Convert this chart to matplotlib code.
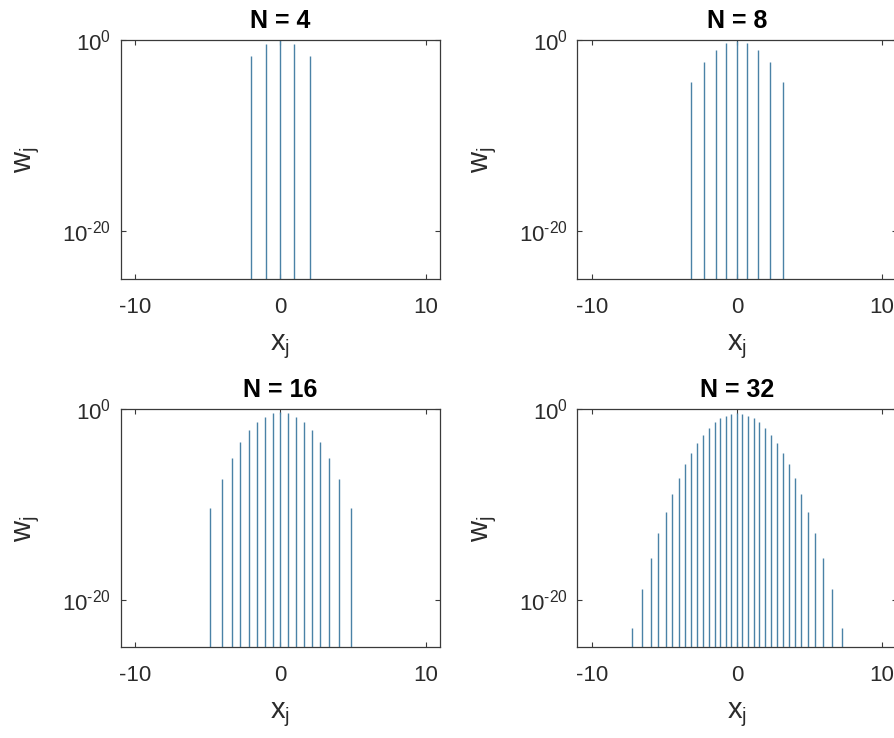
import matplotlib
matplotlib.use("Agg")
import matplotlib.pyplot as plt
from matplotlib.ticker import FixedLocator, FixedFormatter, NullLocator

plt.rcParams['font.family'] = ['Liberation Sans', 'DejaVu Sans']
plt.rcParams['mathtext.fontset'] = 'custom'
plt.rcParams['mathtext.rm'] = 'Liberation Sans'
plt.rcParams['mathtext.it'] = 'Liberation Sans:italic'
plt.rcParams['mathtext.bf'] = 'Liberation Sans:bold'
plt.rcParams['axes.unicode_minus'] = False

# Gauss-Hermite nodes x_j and weights w_j (N+1 points each)
nodes_4 = [-2.0202, -0.9586, 0.0, 0.9586, 2.0202]
weights_4 = [0.01995, 0.3936, 0.9453, 0.3936, 0.01995]

nodes_8 = [-3.1910, -2.2666, -1.4686, -0.7236, 0.0, 0.7236, 1.4686, 2.2666, 3.1910]
weights_8 = [3.96e-5, 4.94e-3, 0.0885, 0.4327, 0.7202, 0.4327, 0.0885, 4.94e-3, 3.96e-5]

nodes_16 = [-4.87, -4.03, -3.35, -2.75, -2.18, -1.62, -1.08, -0.54, 0.0,
            0.54, 1.08, 1.62, 2.18, 2.75, 3.35, 4.03, 4.87]
weights_16 = [4.5e-11, 4.6e-8, 8.3e-6, 3.4e-4, 6.2e-3, 0.043, 0.17, 0.40, 0.53,
              0.40, 0.17, 0.043, 6.2e-3, 3.4e-4, 8.3e-6, 4.6e-8, 4.5e-11]

nodes_32 = [-7.25, -6.54, -5.94, -5.41, -4.91, -4.44, -3.99, -3.56, -3.14,
            -2.73, -2.33, -1.93, -1.54, -1.15, -0.77, -0.38, 0.0,
            0.38, 0.77, 1.15, 1.54, 1.93, 2.33, 2.73, 3.14,
            3.56, 3.99, 4.44, 4.91, 5.41, 5.94, 6.54, 7.25]
weights_32 = [1.0e-23, 1.4e-19, 2.5e-16, 1.0e-13, 1.6e-11, 1.3e-9, 5.6e-8, 1.6e-6, 2.5e-5,
              2.8e-4, 2.2e-3, 0.011, 0.044, 0.11, 0.22, 0.34, 0.39,
              0.34, 0.22, 0.11, 0.044, 0.011, 2.2e-3, 2.8e-4, 2.5e-5,
              1.6e-6, 5.6e-8, 1.3e-9, 1.6e-11, 1.0e-13, 2.5e-16, 1.4e-19, 1.0e-23]

titles = ['N = 4', 'N = 8', 'N = 16', 'N = 32']
all_nodes = [nodes_4, nodes_8, nodes_16, nodes_32]
all_weights = [weights_4, weights_8, weights_16, weights_32]

x_ticks = [-10, 0, 10]
y_ticks = [1e-20, 1e0]
y_tick_labels = [r'10$^{\text{-20}}$', r'10$^{\text{0}}$']

y_min, y_max = 1e-25, 1e0
stem_color = '#4a82a6'
axis_color = '#3a3a3a'
text_color = '#2b2b2b'

fig = plt.figure(figsize=(8.95, 7.38), dpi=100)

# [left, bottom, width, height] for each panel
positions = [
    [0.1349, 0.622, 0.3568, 0.3238],
    [0.6450, 0.622, 0.3568, 0.3238],
    [0.1349, 0.1229, 0.3568, 0.3225],
    [0.6450, 0.1229, 0.3568, 0.3225],
]

for pos, title, xs, ws in zip(positions, titles, all_nodes, all_weights):
    ax = fig.add_axes(pos)
    ax.vlines(xs, y_min, ws, colors=stem_color, linewidth=1.0)
    ax.set_yscale('log')
    ax.set_xlim(-11, 11)
    ax.set_ylim(y_min, y_max)

    ax.xaxis.set_major_locator(FixedLocator(x_ticks))
    ax.yaxis.set_major_locator(FixedLocator(y_ticks))
    ax.yaxis.set_major_formatter(FixedFormatter(y_tick_labels))
    ax.yaxis.set_minor_locator(NullLocator())

    ax.tick_params(axis='both', which='major', direction='in', length=3.5, width=0.8,
                   color=axis_color, labelcolor=text_color, labelsize=16,
                   top=True, right=True)
    ax.tick_params(axis='x', pad=13)
    ax.tick_params(axis='y', pad=7)
    for sp in ax.spines.values():
        sp.set_color(axis_color)
        sp.set_linewidth(0.9)

    ax.set_title(title, fontsize=18, fontweight='bold', pad=8.5, color='black')
    ax.set_xlabel(r'$\mathrm{x_j}$', fontsize=21, color=text_color)
    ax.set_ylabel(r'$\mathrm{w_j}$', fontsize=21, color=text_color)
    ax.xaxis.set_label_coords(0.5, -0.225)
    ax.yaxis.set_label_coords(-0.245, 0.5)

fig.savefig('out.png', dpi=100)
